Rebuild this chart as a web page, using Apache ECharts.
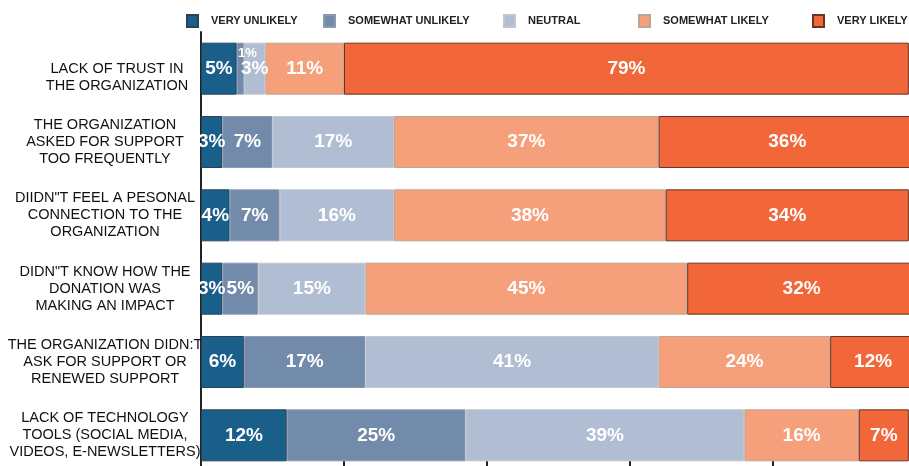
<!DOCTYPE html>
<html>
<head>
<meta charset="utf-8">
<script src="https://cdn.jsdelivr.net/npm/echarts@6/dist/echarts.min.js"></script>
<style>
	html, body { margin: 0; padding: 0; background: #fff; }
	#chart { width: 909px; height: 466px; }
</style>
</head>
<body>
<div id="chart"></div>
<script>
var categories = [
	"LACK OF TRUST IN\nTHE ORGANIZATION",
	"THE ORGANIZATION\nASKED FOR SUPPORT\nTOO FREQUENTLY",
	"DIIDN\"T FEEL A PESONAL\nCONNECTION TO THE\nORGANIZATION",
	"DIDN\"T KNOW HOW THE\nDONATION WAS\nMAKING AN IMPACT",
	"THE ORGANIZATION DIDN:T\nASK FOR SUPPORT OR\nRENEWED SUPPORT",
	"LACK OF TECHNOLOGY\nTOOLS (SOCIAL MEDIA,\nVIDEOS, E-NEWSLETTERS)"
];
var seriesNames = ["VERY UNLIKELY", "SOMEWHAT UNLIKELY", "NEUTRAL", "SOMEWHAT LIKELY", "VERY LIKELY"];
var veryUnlikely = [5, 3, 4, 3, 6, 12];
var somewhatUnlikely = [1, 7, 7, 5, 17, 25];
var neutral = [3, 17, 16, 15, 41, 39];
var somewhatLikely = [11, 37, 38, 45, 24, 16];
var veryLikely = [79, 36, 34, 32, 12, 7];
var xTicks = [0, 20, 40, 60, 80, 100];

var colors = ["#1a5e8a", "#738bab", "#b1bdd2", "#f5a07b", "#f26739"];
var borders = ["#25435a", "#8c9ab0", "#c2c6cd", "#b9a697", "#6b3322"];
var legendLeft = [186, 323, 503, 638, 812];

var labelFont = "'Liberation Sans', Arial, sans-serif";

function makeSeries(idx, values) {
	var data = values.map(function (v) { return v; });
	// the tiny 1% slice gets its label pushed up over the bar
	if (idx == 1) {
		data[0] = {
			value: values[0],
			label: { fontSize: 13, offset: [7, -15] }
		};
	}
	return {
		name: seriesNames[idx],
		type: "bar",
		stack: "total",
		barWidth: 52,
		data: data,
		itemStyle: {
			color: colors[idx],
			borderColor: borders[idx],
			borderWidth: 1
		},
		label: {
			show: true,
			position: "inside",
			formatter: "{c}%",
			color: "#fff",
			fontFamily: labelFont,
			fontWeight: "bold",
			fontSize: 19
		}
	};
}

var legends = seriesNames.map(function (name, i) {
	return {
		data: [name],
		left: legendLeft[i],
		top: 14,
		icon: "rect",
		itemWidth: 11,
		itemHeight: 12,
		padding: 0,
		selectedMode: false,
		textStyle: {
			fontFamily: labelFont,
			fontWeight: "bold",
			fontSize: 11,
			color: "#222",
			padding: [0, 0, 0, 8]
		}
	};
});

var yLabelStyle = {
	fontFamily: labelFont,
	fontSize: 14.5,
	lineHeight: 17,
	color: "#111"
};

var myChart = echarts.init(document.getElementById("chart"));
myChart.setOption({
	animation: false,
	legend: legends,
	grid: {
		left: 201,
		right: -7,
		top: 32,
		bottom: -6,
		outerBoundsMode: "none",
		containLabel: false
	},
	xAxis: {
		type: "value",
		min: xTicks[0],
		max: xTicks[xTicks.length - 1],
		interval: xTicks[1] - xTicks[0],
		offset: -11,
		splitLine: { show: false },
		axisLine: { show: false },
		axisTick: {
			show: true,
			length: 6,
			lineStyle: { color: "#222", width: 2 }
		},
		axisLabel: { show: false }
	},
	yAxis: {
		type: "category",
		inverse: true,
		data: categories,
		axisLine: {
			show: true,
			lineStyle: { color: "#222", width: 2 }
		},
		axisTick: { show: false },
		axisLabel: {
			margin: 96,
			align: "center",
			fontFamily: labelFont,
			fontSize: 14.5,
			lineHeight: 17,
			color: "#111",
			rich: {
				a: yLabelStyle,
				b: echarts.util.extend({ padding: [0, 0, 0, 24] }, yLabelStyle)
			},
			formatter: function (val, idx) {
				var lines = val.split("\n");
				if (lines.length < 3) lines.unshift(" ");
				var tag = idx == 0 ? "b" : "a";
				return lines.map(function (l) { return "{" + tag + "|" + l + "}"; }).join("\n");
			}
		}
	},
	series: [
		makeSeries(0, veryUnlikely),
		makeSeries(1, somewhatUnlikely),
		makeSeries(2, neutral),
		makeSeries(3, somewhatLikely),
		makeSeries(4, veryLikely)
	]
});
</script>
</body>
</html>
